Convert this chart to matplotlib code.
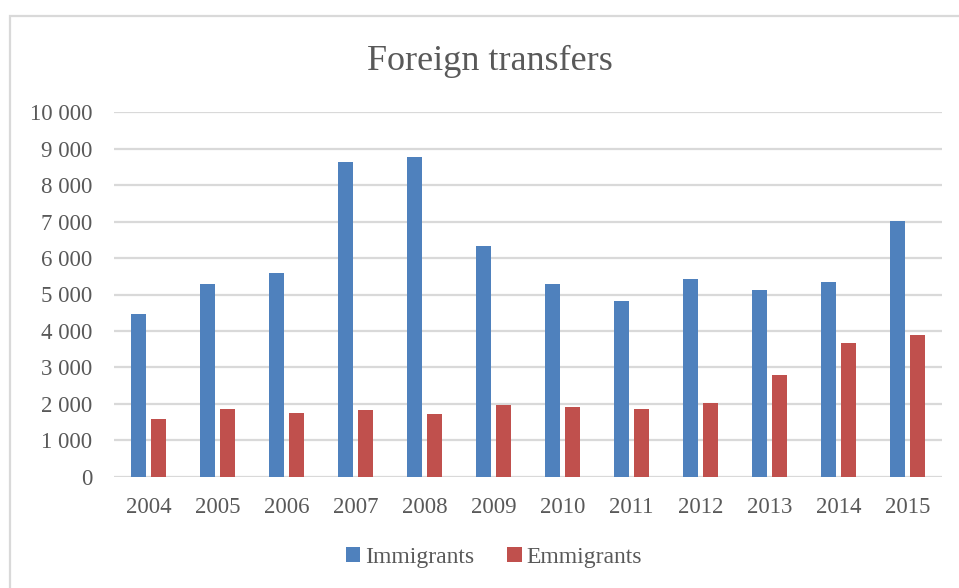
import numpy as np
import matplotlib.pyplot as plt
from matplotlib.patches import Rectangle
from matplotlib.ticker import FuncFormatter

# foreign transfers by year
years = ['2004', '2005', '2006', '2007', '2008', '2009',
         '2010', '2011', '2012', '2013', '2014', '2015']
immigrants = [4460, 5280, 5600, 8630, 8770, 6330,
              5280, 4810, 5420, 5130, 5350, 7010]
emmigrants = [1580, 1860, 1760, 1830, 1720, 1970,
              1900, 1860, 2010, 2780, 3660, 3880]

blue = '#4F81BD'
red = '#C0504D'
txt = '#595959'
grid = '#D9D9D9'

plt.rcParams['font.family'] = ['Liberation Serif', 'DejaVu Serif']

fig = plt.figure(figsize=(9.59, 5.88), dpi=100)
# chart frame
fig.patches.append(Rectangle((10/959, -0.1), 1.2, 1 - 16/588 + 0.1,
                             transform=fig.transFigure, fill=False,
                             edgecolor=grid, lw=1.6))

ax = fig.add_axes([114/959, 111.3/588, 828/959, 364.4/588])
x = np.arange(len(years))
w = 0.22
off = 0.147
ax.bar(x - off, immigrants, w, color=blue, label='Immigrants', zorder=3)
ax.bar(x + off, emmigrants, w, color=red, label='Emmigrants', zorder=3)

ax.set_xlim(-0.5, len(years) - 0.5)
ax.set_ylim(0, 10000)
ax.set_yticks(np.arange(0, 10001, 1000))
ax.yaxis.set_major_formatter(FuncFormatter(lambda v, p: f'{int(v):,}'.replace(',', ' ')))
ax.set_xticks(x)
ax.set_xticklabels(years)
ax.yaxis.grid(True, color=grid, lw=1.6, zorder=0)
ax.set_axisbelow(True)
for s in ax.spines.values():
    s.set_visible(False)
ax.tick_params(axis='both', length=0, labelsize=16.5, colors=txt)
ax.tick_params(axis='y', pad=15.5)
ax.tick_params(axis='x', pad=14.5)

fig.text(490/959, 1 - 61/588, 'Foreign transfers', ha='center', va='center',
         fontsize=26, color=txt)

fig.legend(loc='center', bbox_to_anchor=(494/959, 1 - 557/588), ncol=2,
           frameon=False, fontsize=17, labelcolor=txt, handlelength=0.6,
           handleheight=0.6, handletextpad=0.2, columnspacing=1.4)

fig.savefig('out.png', dpi=100)
